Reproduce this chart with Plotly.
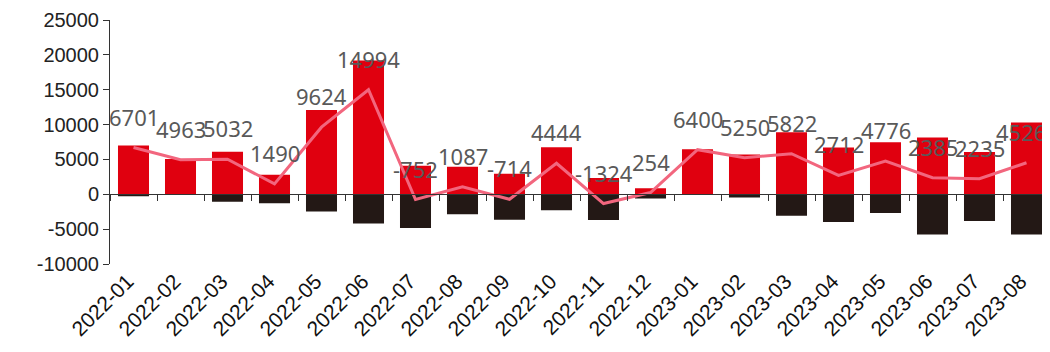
import plotly.graph_objects as go

months = ["2022-01", "2022-02", "2022-03", "2022-04", "2022-05", "2022-06", "2022-07",
          "2022-08", "2022-09", "2022-10", "2022-11", "2022-12", "2023-01", "2023-02",
          "2023-03", "2023-04", "2023-05", "2023-06", "2023-07", "2023-08"]
inflow = [7000, 5050, 6090, 2790, 12100, 19200, 4100, 3950, 2950, 6750, 2350, 850,
          6450, 5700, 8900, 6700, 7450, 8150, 6050, 10300]
outflow = [-299, -87, -1058, -1300, -2476, -4206, -4852, -2863, -3664, -2306, -3674, -596,
           -50, -450, -3078, -3988, -2674, -5765, -3815, -5774]
net = [6701, 4963, 5032, 1490, 9624, 14994, -752, 1087, -714, 4444, -1324, 254,
       6400, 5250, 5822, 2712, 4776, 2385, 2235, 4526]
y_ticks = [-10000, -5000, 0, 5000, 10000, 15000, 20000, 25000]

fig = go.Figure()
fig.add_trace(go.Bar(x=months, y=inflow, marker=dict(color="#e0000f", line=dict(width=0)),
                     xaxis="x", yaxis="y", showlegend=False))
fig.add_trace(go.Bar(x=months, y=outflow, marker=dict(color="#231815", line=dict(width=0)),
                     xaxis="x", yaxis="y", showlegend=False))
fig.add_trace(go.Scatter(x=months, y=net, mode="lines", line=dict(color="#f2667e", width=3),
                         xaxis="x2", yaxis="y", showlegend=False))

for i, (m, v) in enumerate(zip(months, net)):
    fig.add_annotation(x=m, y=v, xref="x2", yref="y", text=str(v), showarrow=False,
                       yshift=31, xshift=(-6 if i == len(months) - 1 else 0),
                       font=dict(family="Noto Sans", size=22, color="#595959"))

fig.update_layout(
    width=1042, height=344,
    margin=dict(l=102, r=0, t=12, b=88),
    paper_bgcolor="white", plot_bgcolor="white",
    barmode="relative", bargap=0.34,
    font=dict(family="Liberation Sans, Arial", color="#222222"),
    xaxis=dict(type="category", categoryarray=months, range=[-0.5, len(months) - 0.5],
               showline=False, showgrid=False, zeroline=False, ticks="",
               tickangle=-45, tickfont=dict(size=21, color="#111111"),
               ticklabelshift=-6, automargin=False),
    xaxis2=dict(type="category", categoryarray=months, range=[-0.5, len(months) - 0.5],
                overlaying="x", anchor="free",
                position=(0 - y_ticks[0]) / (y_ticks[-1] - y_ticks[0]),
                showline=True, linecolor="#333333", linewidth=1,
                ticks="outside", ticklen=6, tickcolor="#333333", tickson="boundaries",
                showticklabels=False, showgrid=False, zeroline=False, automargin=False),
    yaxis=dict(range=[y_ticks[0], y_ticks[-1]], tickvals=y_ticks,
               ticktext=[str(v) for v in y_ticks],
               showline=True, linecolor="#333333", linewidth=1,
               ticks="outside", ticklen=6, tickcolor="#333333",
               showgrid=False, zeroline=False, automargin=False,
               tickfont=dict(size=20, color="#222222")),
)

fig.write_html("out.html")
